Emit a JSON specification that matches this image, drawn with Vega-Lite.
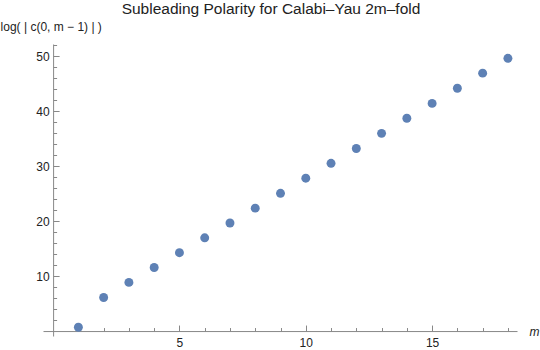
{
  "$schema": "https://vega.github.io/schema/vega-lite/v6.json",
  "width": 474,
  "height": 292,
  "autosize": "none",
  "padding": {"left": 43, "top": 44, "right": 23, "bottom": 14},
  "background": "white",
  "title": {
    "text": "Subleading Polarity for Calabi–Yau 2m–fold",
    "font": "Liberation Sans",
    "fontSize": 15.5,
    "fontWeight": "normal",
    "color": "#222222",
    "anchor": "middle",
    "dx": -9,
    "dy": 1
  },
  "config": {"view": {"stroke": null}},
  "data": {
    "values": [
      {"m": 1, "v": 0.69},
      {"m": 2, "v": 6.1},
      {"m": 3, "v": 8.85},
      {"m": 4, "v": 11.55},
      {"m": 5, "v": 14.25},
      {"m": 6, "v": 16.95},
      {"m": 7, "v": 19.65},
      {"m": 8, "v": 22.35},
      {"m": 9, "v": 25.05},
      {"m": 10, "v": 27.8},
      {"m": 11, "v": 30.5},
      {"m": 12, "v": 33.2},
      {"m": 13, "v": 35.95},
      {"m": 14, "v": 38.7},
      {"m": 15, "v": 41.4},
      {"m": 16, "v": 44.15},
      {"m": 17, "v": 46.9},
      {"m": 18, "v": 49.6}
    ]
  },
  "mark": {"type": "circle", "size": 80, "color": "#5E81B5", "opacity": 1},
  "encoding": {
    "x": {
      "field": "m",
      "type": "quantitative",
      "scale": {"domain": [-0.4, 18.36], "nice": false, "zero": false},
      "axis": {
        "values": [1,2,3,4,5,6,7,8,9,10,11,12,13,14,15,16,17,18],
        "labelExpr": "datum.value % 5 === 0 ? datum.label : ''",
        "offset": -4.95,
        "grid": false,
        "domainColor": "#888888",
        "tickColor": "#888888",
        "tickSize": {"condition": {"test": "datum.value % 5 === 0", "value": -6}, "value": -3.5},
        "labelPadding": 12,
        "labelFont": "Liberation Sans",
        "labelFontSize": 12,
        "labelColor": "#222222",
        "title": "m",
        "titleFont": "Liberation Sans",
        "titleFontStyle": "italic",
        "titleFontWeight": "normal",
        "titleFontSize": 12,
        "titleColor": "#222222",
        "titleAngle": 0,
        "titleAlign": "left",
        "titleBaseline": "alphabetic",
        "titleX": 486,
        "titleY": 4
      }
    },
    "y": {
      "field": "v",
      "type": "quantitative",
      "scale": {"domain": [-0.9, 52.2], "nice": false, "zero": false},
      "axis": {
        "values": [2,4,6,8,10,12,14,16,18,20,22,24,26,28,30,32,34,36,38,40,42,44,46,48,50,52],
        "labelExpr": "datum.value % 10 === 0 ? datum.label : ''",
        "offset": -10.1,
        "grid": false,
        "domainColor": "#888888",
        "tickColor": "#888888",
        "tickSize": {"condition": {"test": "datum.value % 10 === 0", "value": -6}, "value": -3.5},
        "labelPadding": 10,
        "labelFont": "Liberation Sans",
        "labelFontSize": 12,
        "labelColor": "#222222",
        "title": "log( | c(0, m − 1) | )",
        "titleFont": "Liberation Sans",
        "titleFontWeight": "normal",
        "titleFontSize": 12,
        "titleColor": "#222222",
        "titleAngle": 0,
        "titleAlign": "left",
        "titleBaseline": "alphabetic",
        "titleX": -53,
        "titleY": -14
      }
    }
  }
}
